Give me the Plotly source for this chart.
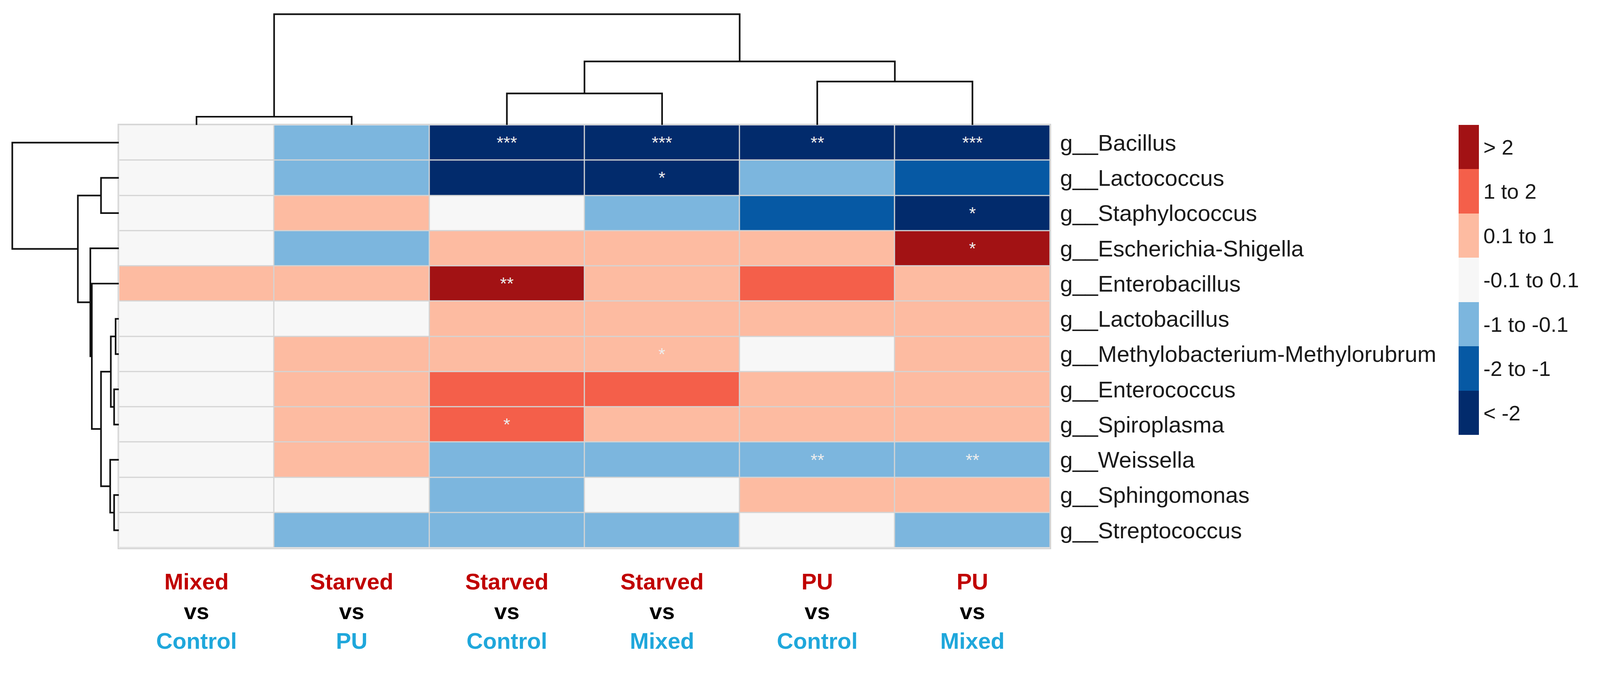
import numpy as np
import plotly.graph_objects as go

# reference frame in pixels; the page is drawn a little smaller so it fits the view
W, H = 4328, 1742
FIG_W, FIG_H = 4060, 1700
SX, SY = FIG_W / W, FIG_H / H

genera = [
    "g__Bacillus", "g__Lactococcus", "g__Staphylococcus", "g__Escherichia-Shigella",
    "g__Enterobacillus", "g__Lactobacillus", "g__Methylobacterium-Methylorubrum",
    "g__Enterococcus", "g__Spiroplasma", "g__Weissella", "g__Sphingomonas",
    "g__Streptococcus",
]
group_a = ["Mixed", "Starved", "Starved", "Starved", "PU", "PU"]
group_b = ["Control", "PU", "Control", "Mixed", "Control", "Mixed"]

# log2 fold change per genus (rows) and comparison (columns)
log2fc = [
    [0.00, -0.60, -3.10, -2.80, -2.40, -2.90],
    [0.00, -0.50, -2.30, -2.50, -0.70, -1.40],
    [0.05, 0.40, 0.00, -0.50, -1.60, -2.20],
    [0.00, -0.40, 0.60, 0.50, 0.70, 2.60],
    [0.30, 0.50, 2.40, 0.60, 1.30, 0.80],
    [0.00, 0.05, 0.50, 0.40, 0.60, 0.50],
    [0.00, 0.30, 0.60, 0.70, 0.00, 0.40],
    [0.00, 0.40, 1.50, 1.20, 0.50, 0.60],
    [0.00, 0.30, 1.10, 0.80, 0.60, 0.50],
    [0.00, 0.20, -0.60, -0.70, -0.80, -0.90],
    [0.00, 0.00, -0.30, 0.05, 0.40, 0.30],
    [0.00, -0.30, -0.40, -0.30, 0.00, -0.50],
]
signif = [
    ["", "", "***", "***", "**", "***"],
    ["", "", "", "*", "", ""],
    ["", "", "", "", "", "*"],
    ["", "", "", "", "", "*"],
    ["", "", "**", "", "", ""],
    ["", "", "", "", "", ""],
    ["", "", "", "*", "", ""],
    ["", "", "", "", "", ""],
    ["", "", "*", "", "", ""],
    ["", "", "", "", "**", "**"],
    ["", "", "", "", "", ""],
    ["", "", "", "", "", ""],
]

bin_edges = [-2, -1, -0.1, 0.1, 1, 2]
bin_labels = ["< -2", "-2 to -1", "-1 to -0.1", "-0.1 to 0.1", "0.1 to 1", "1 to 2", "> 2"]
bin_colors = ["#022B6C", "#0659A4", "#7CB6DE", "#F7F7F7", "#FDBBA1", "#F45F4A", "#A21214"]

# hierarchical clustering merges: (left, right, height)
col_links = [[0, 1, 0.75], [2, 3, 2.85], [4, 5, 3.92], [7, 8, 5.74], [6, 9, 10.0]]
row_links = [
    [1, 2, 1.68], [5, 6, 0.31], [7, 8, 0.45], [10, 11, 0.45], [13, 14, 0.76],
    [9, 15, 0.82], [16, 17, 1.68], [4, 18, 2.54], [3, 19, 2.68], [12, 20, 3.85],
    [0, 21, 10.0],
]


def dendro_segments(links, n_leaves):
    pos = {i: float(i) for i in range(n_leaves)}
    hgt = {i: 0.0 for i in range(n_leaves)}
    p, h = [], []
    for k, (l, r, d) in enumerate(links):
        p += [pos[l], pos[l], pos[r], pos[r], None]
        h += [hgt[l], d, d, hgt[r], None]
        pos[n_leaves + k] = (pos[l] + pos[r]) / 2
        hgt[n_leaves + k] = d
    return p, h


def fx(px):
    return px / W


def fy(px):
    return 1 - px / H


n_rows, n_cols = len(genera), len(group_a)
z = np.digitize(np.array(log2fc), bin_edges)

cs = []
for i, c in enumerate(bin_colors):
    cs += [[i / len(bin_colors), c], [(i + 1) / len(bin_colors), c]]

RED, BLUE = "#C00000", "#1FA7DB"
col_text = [
    f'<b><span style="color:{RED}">{a}</span><br>vs<br><span style="color:{BLUE}">{b}</span></b>'
    for a, b in zip(group_a, group_b)
]

hm_left, hm_right, hm_top, hm_bottom = 316, 2857, 320, 1430
font = "Liberation Sans, Arial, sans-serif"
line_col = "#111111"

fig = go.Figure()
fig.add_trace(go.Heatmap(
    z=z, x=list(range(n_cols)), y=list(range(n_rows)),
    text=signif, texttemplate="%{text}",
    textfont=dict(size=48 * SX, color="#EDEDED", family=font),
    colorscale=cs, zmin=-0.5, zmax=len(bin_colors) - 0.5,
    xgap=3, ygap=3, hoverinfo="skip",
    colorbar=dict(
        x=fx(3972), xanchor="left", y=fy(320), yanchor="top",
        len=814 * SY, lenmode="pixels", thickness=55 * SX, thicknessmode="pixels",
        xpad=0, ypad=0, outlinewidth=0, ticks="",
        tickvals=list(range(len(bin_labels))), ticktext=bin_labels,
        tickfont=dict(size=58 * SX, color="#1a1a1a", family=font),
    ),
))

cp, ch = dendro_segments(col_links, n_cols)
fig.add_trace(go.Scatter(x=cp, y=ch, mode="lines", xaxis="x2", yaxis="y2",
                         line=dict(color=line_col, width=4.2), hoverinfo="skip",
                         showlegend=False))
rp, rh = dendro_segments(row_links, n_rows)
fig.add_trace(go.Scatter(x=rh, y=rp, mode="lines", xaxis="x3", yaxis="y3",
                         line=dict(color=line_col, width=4.2), hoverinfo="skip",
                         showlegend=False))

fig.add_shape(type="rect", xref="x", yref="y", x0=-0.5, x1=n_cols - 0.5,
              y0=-0.5, y1=n_rows - 0.5, fillcolor="#D4D4D4", line_width=0,
              layer="below")

hidden = dict(showgrid=False, zeroline=False, showticklabels=False, ticks="",
              showline=False, automargin=False)
fig.update_layout(
    width=FIG_W, height=FIG_H, margin=dict(l=0, r=0, t=0, b=0),
    paper_bgcolor="white", plot_bgcolor="white", font=dict(family=font),
    xaxis=dict(domain=[fx(hm_left), fx(hm_right)], range=[-0.5, n_cols - 0.5],
               tickvals=list(range(n_cols)), ticktext=col_text, ticks="",
               tickfont=dict(size=62 * SX, color="black", family=font),
               ticklabelstandoff=34, showgrid=False, zeroline=False,
               showline=True, mirror=True, linecolor="#D4D4D4", linewidth=3,
               automargin=False),
    yaxis=dict(domain=[fy(hm_bottom), fy(hm_top)], range=[n_rows - 0.5, -0.5],
               side="right", tickvals=list(range(n_rows)), ticktext=genera, ticks="",
               tickfont=dict(size=62 * SX, color="#1a1a1a", family=font),
               ticklabelstandoff=11, showgrid=False, zeroline=False,
               showline=True, mirror=True, linecolor="#D4D4D4", linewidth=3,
               automargin=False),
    xaxis2=dict(domain=[fx(hm_left), fx(hm_right)], range=[-0.5, n_cols - 0.5],
                anchor="y2", **hidden),
    yaxis2=dict(domain=[fy(hm_top), 1], range=[0, 10 * hm_top / 291],
                anchor="x2", **hidden),
    xaxis3=dict(domain=[0, fx(hm_left)], range=[10 * hm_left / 291, 0],
                anchor="y3", **hidden),
    yaxis3=dict(domain=[fy(hm_bottom), fy(hm_top)], range=[n_rows - 0.5, -0.5],
                anchor="x3", **hidden),
    showlegend=False,
)

fig.write_html("out.html")
